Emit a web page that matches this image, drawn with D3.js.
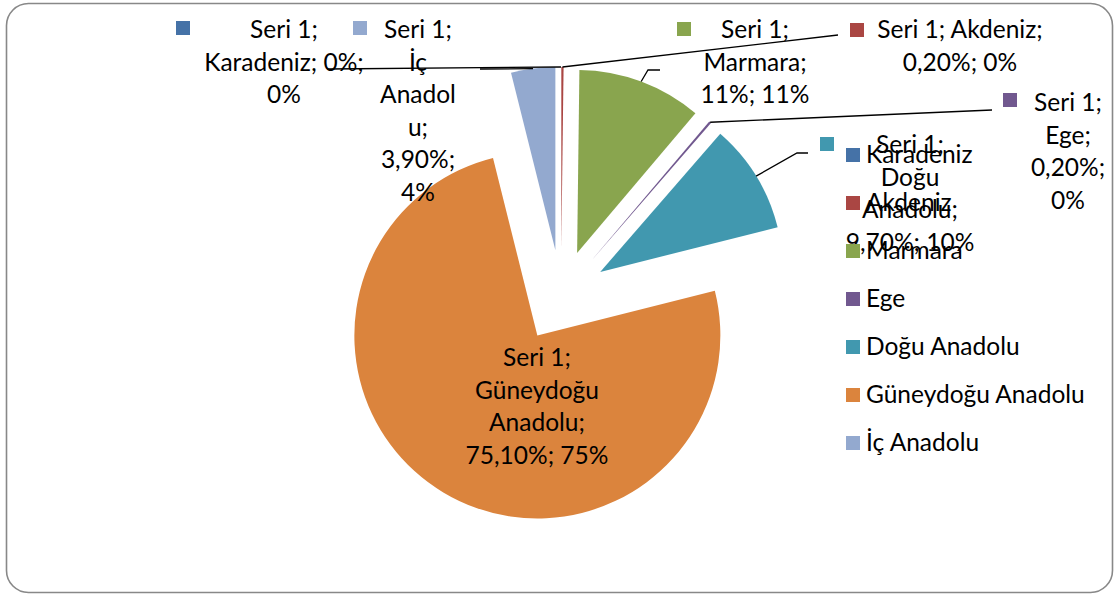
<!DOCTYPE html>
<html lang="tr">
<head>
<meta charset="UTF-8">
<title>Seri 1</title>
<style>
  body { margin: 0; background: #fff; }
  svg { display: block; font-family: Lato, "Liberation Sans", sans-serif; }
  .lbl, .legend-text { font-size: 24.5px; fill: #000; }
  .leader { fill: none; stroke: #000; stroke-width: 1.3; }
</style>
</head>
<body>
<svg id="chart" width="1117" height="596"></svg>
<script src="https://cdnjs.cloudflare.com/ajax/libs/d3/7.9.0/d3.min.js"></script>
<script>
const seriesName = 'Seri 1';
const regions = ['Karadeniz', 'Akdeniz', 'Marmara', 'Ege', 'Doğu Anadolu', 'Güneydoğu Anadolu', 'İç Anadolu'];
const values = [0, 0.2, 11, 0.2, 9.7, 75.1, 3.9];
const colors = ['#4572A7', '#AA4643', '#89A54E', '#71588F', '#4198AF', '#DB843D', '#93A9CF'];

// where Excel left each data label (centre x, first baseline, wrap width, key square, leader end)
const labelLayout = [
    { cx: 284, y: 38, w: 172, w1: 120, key: [176, 21], leader: [[328, 69]] },
    { cx: 960, y: 38, w: 210, key: [850, 23], leader: [[838, 35]] },
    { cx: 755, y: 38, w: 122, key: [677, 22], leader: [[660, 70], [648, 70]] },
    { cx: 1068, y: 111, w: 86, key: [1003, 93], leader: [[992, 110]] },
    { cx: 910, y: 153, w: 140, w1: 100, key: [820, 137], leader: [[808, 153], [797, 153]] },
    { cx: 537, y: 366, w: 152, key: null, leader: null },
    { cx: 418, y: 38, w: 82, key: [353, 21], leader: [[480, 69]] }
];

const width = 1117, height = 596;
const cx = 561, cy = 296, radius = 183, explode = 46;
const lineH = 32.5;

const svg = d3.select('#chart');

svg.append('rect')
    .attr('x', 6.5).attr('y', 3.5)
    .attr('width', 1106).attr('height', 589)
    .attr('rx', 22)
    .attr('fill', '#fff')
    .attr('stroke', '#888')
    .attr('stroke-width', 1.6);

const total = d3.sum(values);
const pie = d3.pie().sort(null).value(d => d)(values);
const arc = d3.arc().innerRadius(0).outerRadius(radius);

const dir = a => [Math.sin(a), -Math.cos(a)];
const mid = d => (d.startAngle + d.endAngle) / 2;

const g = svg.append('g').attr('transform', `translate(${cx},${cy})`);

g.selectAll('path.slice')
    .data(pie)
    .enter().append('path')
    .attr('class', 'slice')
    .attr('d', arc)
    .attr('fill', (d, i) => colors[i])
    .attr('transform', d => {
        const [dx, dy] = dir(mid(d));
        return `translate(${dx * explode},${dy * explode})`;
    });

// leader lines from the outer edge of each slice
pie.forEach((d, i) => {
    const L = labelLayout[i];
    if (!L.leader) return;
    const [dx, dy] = dir(mid(d));
    const p = [cx + dx * (explode + radius), cy + dy * (explode + radius)];
    svg.append('path')
        .attr('class', 'leader')
        .attr('d', d3.line()(L.leader.concat([p])));
});

// text measuring for wrapping
const probe = svg.append('text').attr('class', 'lbl').attr('x', -1000).attr('y', -1000);
const measure = s => { probe.text(s); return probe.node().getComputedTextLength(); };

function wrap(text, w, w1) {
    const lines = [];
    let cur = '', limit = w1 || w;
    text.split(' ').forEach(word => {
        const test = cur ? cur + ' ' + word : word;
        if (measure(test) <= limit) { cur = test; return; }
        if (cur) { lines.push(cur); cur = ''; limit = w; }
        if (measure(word) <= limit) { cur = word; return; }
        let part = '';
        for (const ch of word) {
            if (part && measure(part + ch) > limit) { lines.push(part); part = ch; limit = w; }
            else part += ch;
        }
        cur = part;
    });
    if (cur) lines.push(cur);
    return lines;
}

const fmtVal = v => (Number.isInteger(v) ? d3.format('d')(v) : d3.format('.2f')(v)).replace('.', ',') + '%';
const fmtPct = v => d3.format('.0%')(v / total);

regions.forEach((name, i) => {
    const L = labelLayout[i];
    const text = `${seriesName}; ${name}; ${fmtVal(values[i])}; ${fmtPct(values[i])}`;
    const lines = wrap(text, L.w, L.w1);
    const t = svg.append('text')
        .attr('class', 'lbl')
        .attr('text-anchor', 'middle');
    lines.forEach((ln, k) => {
        t.append('tspan').attr('x', L.cx).attr('y', L.y + k * lineH).text(ln);
    });
    if (L.key) {
        svg.append('rect')
            .attr('x', L.key[0]).attr('y', L.key[1])
            .attr('width', 14).attr('height', 14)
            .attr('fill', colors[i]);
    }
});
probe.remove();

// legend
const legendY = d3.scalePoint().domain(regions).range([155, 443]);
const legend = svg.append('g').selectAll('g')
    .data(regions)
    .enter().append('g')
    .attr('transform', d => `translate(846,${legendY(d)})`);

legend.append('rect')
    .attr('x', 0).attr('y', -7)
    .attr('width', 14).attr('height', 14)
    .attr('fill', (d, i) => colors[i]);

legend.append('text')
    .attr('class', 'legend-text')
    .attr('x', 20).attr('y', 8)
    .text(d => d);
</script>
</body>
</html>
